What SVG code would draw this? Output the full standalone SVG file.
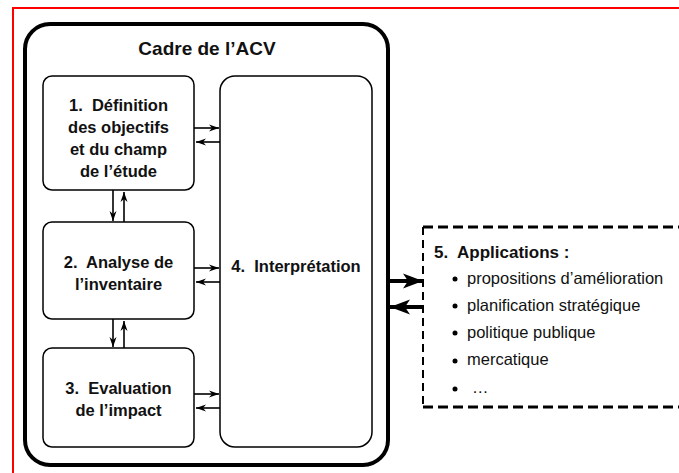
<svg xmlns="http://www.w3.org/2000/svg" width="679" height="473" viewBox="0 0 679 473">
<style>
.bx{fill:#fff;stroke:#000;stroke-width:1.5}
.lbl{font-family:"Liberation Sans",Arial,sans-serif;font-weight:bold;font-size:16.5px;fill:#111;text-anchor:middle}
.item{font-family:"Liberation Sans",Arial,sans-serif;font-size:16.5px;fill:#111}
.sa{stroke:#000;stroke-width:1.6;fill:none}
.ta{stroke:#000;stroke-width:4;fill:none}
.dash{stroke:#000;fill:none}
</style>
<defs>
<marker id="sm" markerUnits="userSpaceOnUse" markerWidth="11" markerHeight="8" refX="10" refY="3.5" orient="auto" overflow="visible">
<path d="M0,0 L10,3.5 L0,7 L3,3.5 z" fill="#000"/>
</marker>
<marker id="big" markerUnits="userSpaceOnUse" markerWidth="21" markerHeight="16" refX="20" refY="7.5" orient="auto" overflow="visible">
<path d="M0,0 L20,7.5 L0,15 L5,7.5 z" fill="#000"/>
</marker>
</defs>
<rect width="679" height="473" fill="#fff"/>
<g id="page-border">
<line x1="12" y1="8" x2="679" y2="8" stroke="#f00" stroke-width="2"/>
<line x1="13" y1="7" x2="13" y2="473" stroke="#f00" stroke-width="2"/>
</g>
<g id="cadre">
<rect x="25" y="24" width="363" height="441" rx="25" ry="25" fill="#fff" stroke="#000" stroke-width="4"/>
<text class="lbl" x="207" y="55" style="font-size:19px">Cadre de l’ACV</text>
</g>
<g id="n1">
<rect class="bx" x="43" y="76" width="151" height="114" rx="9"/>
<text class="lbl" x="118.5" y="111">1.&#160; Définition</text>
<text class="lbl" x="118.5" y="133">des objectifs</text>
<text class="lbl" x="118.5" y="155">et du champ</text>
<text class="lbl" x="118.5" y="177">de l’étude</text>
</g>
<g id="n2">
<rect class="bx" x="43" y="222" width="151" height="97" rx="9"/>
<text class="lbl" x="118.5" y="268">2.&#160; Analyse de</text>
<text class="lbl" x="118.5" y="290">l’inventaire</text>
</g>
<g id="n3">
<rect class="bx" x="43" y="348" width="151" height="99" rx="9"/>
<text class="lbl" x="118.5" y="394">3.&#160; Evaluation</text>
<text class="lbl" x="118.5" y="416">de l’impact</text>
</g>
<g id="n4">
<rect class="bx" x="220" y="76" width="152" height="371" rx="15"/>
<text class="lbl" x="296" y="272">4.&#160; Interprétation</text>
</g>
<g id="n5">
<line class="dash" x1="423" y1="227" x2="679" y2="227" stroke-width="3" stroke-dasharray="10,5"/>
<line class="dash" x1="423" y1="407" x2="679" y2="407" stroke-width="3" stroke-dasharray="10,5"/>
<line class="dash" x1="423" y1="227" x2="423" y2="407" stroke-width="2" stroke-dasharray="8,5"/>
<text class="lbl" x="434" y="258" style="font-size:17px;text-anchor:start">5.&#160; Applications :</text>
<circle cx="455" cy="279" r="2.5" fill="#000"/>
<circle cx="455" cy="306" r="2.5" fill="#000"/>
<circle cx="455" cy="333" r="2.5" fill="#000"/>
<circle cx="455" cy="361" r="2.5" fill="#000"/>
<circle cx="455" cy="389" r="2.5" fill="#000"/>
<text class="item" x="467" y="284">propositions d’amélioration</text>
<text class="item" x="467" y="311">planification stratégique</text>
<text class="item" x="467" y="338">politique publique</text>
<text class="item" x="467" y="365">mercatique</text>
<text class="item" x="472" y="393">…</text>
</g>
<g id="connectors">
<line class="sa" x1="194" y1="128" x2="219" y2="128" marker-end="url(#sm)"/>
<line class="sa" x1="220" y1="142" x2="196" y2="142" marker-end="url(#sm)"/>
<line class="sa" x1="194" y1="268" x2="219" y2="268" marker-end="url(#sm)"/>
<line class="sa" x1="220" y1="282" x2="196" y2="282" marker-end="url(#sm)"/>
<line class="sa" x1="194" y1="394" x2="219" y2="394" marker-end="url(#sm)"/>
<line class="sa" x1="220" y1="408" x2="196" y2="408" marker-end="url(#sm)"/>
<line class="sa" x1="113" y1="190" x2="113" y2="221" marker-end="url(#sm)"/>
<line class="sa" x1="124" y1="222" x2="124" y2="192" marker-end="url(#sm)"/>
<line class="sa" x1="113" y1="319" x2="113" y2="347" marker-end="url(#sm)"/>
<line class="sa" x1="124" y1="348" x2="124" y2="321" marker-end="url(#sm)"/>
<line class="ta" x1="388" y1="281" x2="423" y2="281" marker-end="url(#big)"/>
<line class="ta" x1="423" y1="307" x2="390" y2="307" marker-end="url(#big)"/>
</g>
</svg>
